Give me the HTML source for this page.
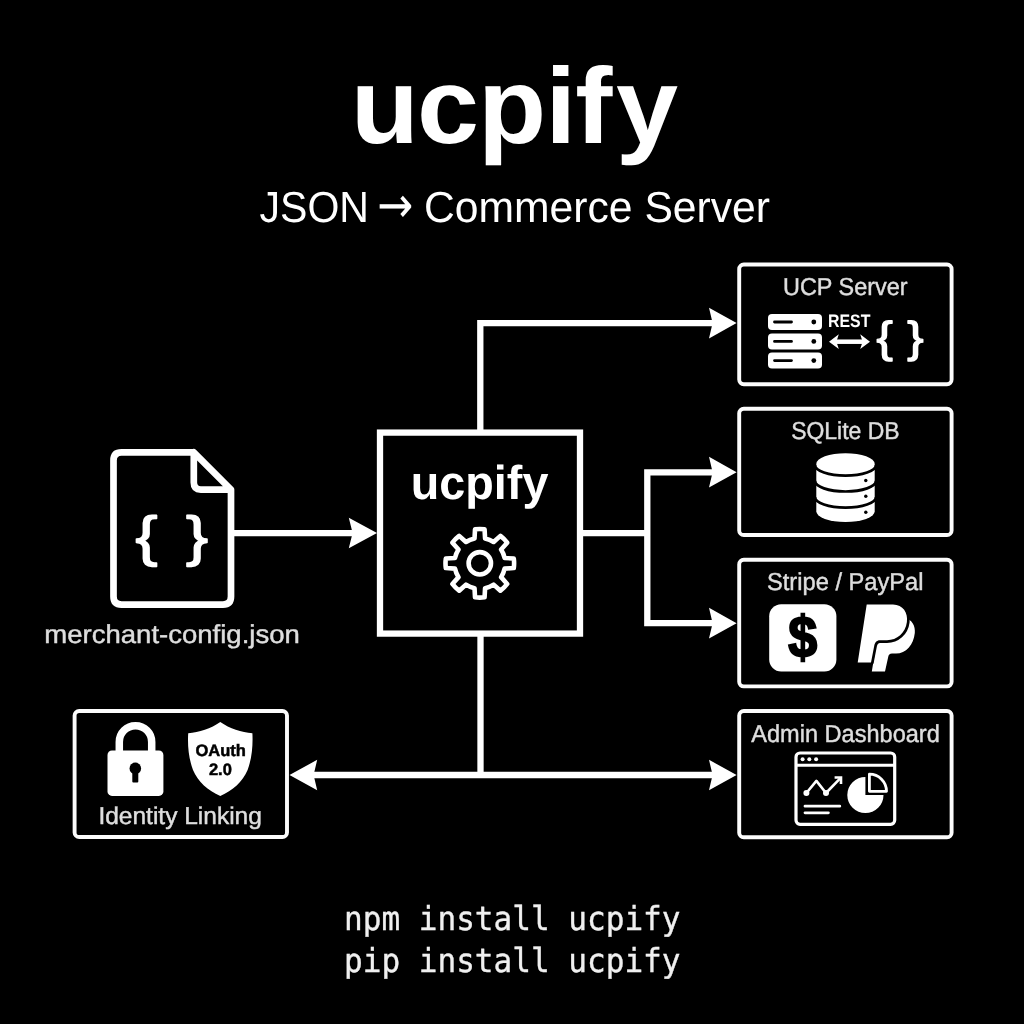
<!DOCTYPE html>
<html lang="en">
<head>
<meta charset="utf-8">
<title>ucpify — JSON → Commerce Server</title>
<style>
html,body{margin:0;padding:0;background:#000;}
body{width:1024px;height:1024px;overflow:hidden;position:relative;font-family:"Liberation Sans",sans-serif;}
svg{position:absolute;left:0;top:0;display:block;will-change:transform;}
text{font-family:"Liberation Sans",sans-serif;fill:#fff;text-rendering:geometricPrecision;}
.b{font-weight:700;}
.lbl{fill:#dedede;stroke:#dedede;stroke-width:0.45;}
.br{stroke:#fff;stroke-linejoin:round;}
.mono{font-family:"DejaVu Sans Mono","Liberation Mono",monospace;fill:#f0f0f0;stroke:#f0f0f0;stroke-width:0.35;}
.ln{fill:none;stroke:#fff;stroke-width:6.3;stroke-linejoin:miter;stroke-linecap:butt;}
.bx{fill:none;stroke:#fcfcfc;stroke-width:3.9;}
.w{fill:#fff;}
.k{fill:#000;}
</style>
</head>
<body>
<svg width="1024" height="1024" viewBox="0 0 1024 1024">
<rect width="1024" height="1024" fill="#000"/>

<!-- ===== headings ===== -->
<g id="headings">
<text id="t-title" class="b" transform="scale(1.0378 1)" x="338.1 401.8 460.6 525.5 554.4 593.6" y="143.3" font-size="107.5">ucpify</text>
<text id="t-sub" y="221.8" font-size="43.5" fill="#f4f4f4" xml:space="preserve"><tspan x="259.5" textLength="109.5" lengthAdjust="spacingAndGlyphs">JSON</tspan><tspan> </tspan><tspan x="377.3" y="222.4" font-family="DejaVu Sans, sans-serif" font-size="50" textLength="36" lengthAdjust="spacingAndGlyphs">→</tspan><tspan> </tspan><tspan x="424" y="221.8" textLength="346" lengthAdjust="spacingAndGlyphs">Commerce Server</tspan></text>
</g>

<!-- ===== connectors ===== -->
<g id="connectors">
<path class="ln" d="M234 533.1H353"/>
<path class="ln" d="M480.3 432V323.1H713"/>
<path class="ln" d="M582 533.1H647.3M713 472.3H647.3V623.1H713"/>
<path class="ln" d="M480.5 635V775"/>
<path class="ln" d="M313 775H713"/>
<g class="w" id="arrows">
<path d="M377 533L348.8 517.8L352.6 533L348.8 548.2Z"/>
<path d="M736.6 323.1L709 307.8L712.6 323.1L709 338.4Z"/>
<path d="M736.6 472.2L709 456.8L712.6 472.2L709 487.6Z"/>
<path d="M736.6 623.2L709 607.8L712.6 623.2L709 638.6Z"/>
<path d="M736.6 775L709 759.8L712.6 775L709 790.2Z"/>
<path d="M289.5 775L317.2 759.8L313.6 775L317.2 790.2Z"/>
</g>
</g>

<!-- ===== boxes ===== -->
<g id="boxes">
<rect class="ln" x="380" y="432.6" width="200" height="201"/>
<rect class="bx" x="739.2" y="264.5" width="212.4" height="119.7" rx="4.6" ry="4.6"/>
<rect class="bx" x="739.2" y="408.7" width="212.4" height="126.3" rx="4.6" ry="4.6"/>
<rect class="bx" x="739.2" y="559.8" width="212.4" height="126.6" rx="4.6" ry="4.6"/>
<rect class="bx" x="739.2" y="711" width="212.4" height="126.3" rx="4.6" ry="4.6"/>
<rect class="bx" x="74.6" y="711" width="212.4" height="126" rx="4.6" ry="4.6"/>
</g>

<!-- ===== file icon ===== -->
<g id="file">
<path d="M193.8 452.3H121.5Q113.5 452.3 113.5 460.3V596.6Q113.5 604.6 121.5 604.6H223Q231 604.6 231 596.6V489.6L193.8 452.3V482.6Q193.8 489.6 200.8 489.6H231" fill="none" stroke="#fff" stroke-width="6.7" stroke-linejoin="round"/>
<text id="t-fb" class="br" transform="scale(1.2 1)" x="112.9 135 155" y="555.3" font-size="55" xml:space="preserve" style="stroke-width:1.5">{ }</text>
<text id="t-file" class="lbl" x="44.3" y="642.7" font-size="25.8" textLength="255.5" lengthAdjust="spacingAndGlyphs">merchant-config.json</text>
</g>

<!-- ===== central ===== -->
<g id="central">
<text id="t-core" class="b" x="410.8" y="498.7" font-size="47.5" textLength="137.6" lengthAdjust="spacingAndGlyphs">ucpify</text>
<g id="gear" transform="translate(479.8 563.3)" fill="none" stroke="#fff" stroke-width="4.6" stroke-linejoin="round">
<path d="M-5.28 -24.84L-4.77 -33.97A34.30 34.30 0 0 1 4.77 -33.97L5.28 -24.84A25.40 25.40 0 0 1 13.83 -21.30L20.64 -27.39A34.30 34.30 0 0 1 27.39 -20.64L21.30 -13.83A25.40 25.40 0 0 1 24.84 -5.28L33.97 -4.77A34.30 34.30 0 0 1 33.97 4.77L24.84 5.28A25.40 25.40 0 0 1 21.30 13.83L27.39 20.64A34.30 34.30 0 0 1 20.64 27.39L13.83 21.30A25.40 25.40 0 0 1 5.28 24.84L4.77 33.97A34.30 34.30 0 0 1 -4.77 33.97L-5.28 24.84A25.40 25.40 0 0 1 -13.83 21.30L-20.64 27.39A34.30 34.30 0 0 1 -27.39 20.64L-21.30 13.83A25.40 25.40 0 0 1 -24.84 5.28L-33.97 4.77A34.30 34.30 0 0 1 -33.97 -4.77L-24.84 -5.28A25.40 25.40 0 0 1 -21.30 -13.83L-27.39 -20.64A34.30 34.30 0 0 1 -20.64 -27.39L-13.83 -21.30A25.40 25.40 0 0 1 -5.28 -24.84Z"/>
<circle r="11.2"/>
</g>
</g>

<!-- ===== UCP server ===== -->
<g id="ucp">
<text id="t-ucp" class="lbl" x="783" y="295.3" font-size="24.5" textLength="124.5" lengthAdjust="spacingAndGlyphs">UCP Server</text>
<g id="srv">
<rect class="w" x="768" y="314" width="54" height="16" rx="4"/>
<rect class="w" x="768" y="333.4" width="54" height="16" rx="4"/>
<rect class="w" x="768" y="352.6" width="54" height="16" rx="4"/>
<g fill="none" stroke="#000" stroke-width="2.8" stroke-linecap="round">
<path d="M774.5 322H791.5M774.5 341.4H791.5M774.5 360.6H791.5"/>
</g>
<circle class="k" cx="813.8" cy="322" r="2.4"/><circle class="k" cx="813.8" cy="341.4" r="2.4"/><circle class="k" cx="813.8" cy="360.6" r="2.4"/>
</g>
<text id="t-rest" class="b" x="828" y="327" font-size="18" textLength="42.4" lengthAdjust="spacingAndGlyphs">REST</text>
<path d="M834 341.7H865" fill="none" stroke="#fff" stroke-width="4.5"/>
<path class="w" d="M829 341.7L838.8 334.3L836.4 341.7L838.8 349.1ZM870 341.7L860.2 334.3L862.6 341.7L860.2 349.1Z"/>
<text id="t-ub" class="br" transform="scale(1.13 1)" x="775.6 790 802.9" y="352.3" font-size="43.3" xml:space="preserve" style="stroke-width:1.3">{ }</text>
</g>

<!-- ===== SQLite ===== -->
<g id="sqlite">
<text id="t-sql" class="lbl" x="791.2" y="439.3" font-size="24.5" textLength="108.4" lengthAdjust="spacingAndGlyphs">SQLite DB</text>
<g id="db">
<path class="w" d="M816.3 464A29.2 10.8 0 0 1 874.7 464V511.3A29.2 10.8 0 0 1 816.3 511.3Z"/>
<g fill="none" stroke="#000" stroke-width="2.7">
<path d="M815 465A30.5 10.7 0 0 0 876 465"/>
<path d="M815 480.8A30.5 10.7 0 0 0 876 480.8"/>
<path d="M815 497A30.5 10.7 0 0 0 876 497"/>
</g>
<circle class="k" cx="865.8" cy="480.5" r="1.7"/><circle class="k" cx="865.8" cy="496.3" r="1.7"/><circle class="k" cx="865.8" cy="512.3" r="1.7"/>
</g>
</g>

<!-- ===== Stripe / PayPal ===== -->
<g id="pay">
<text id="t-pay" class="lbl" x="767" y="590.3" font-size="24.5" textLength="156.5" lengthAdjust="spacingAndGlyphs">Stripe / PayPal</text>
<rect class="w" x="769.2" y="604.2" width="67.2" height="67.4" rx="12" ry="12"/>
<text id="t-dollar" class="b" transform="translate(802.75 637.75) scale(0.93 1.04)" x="0" y="18.6" font-size="56" text-anchor="middle" style="fill:#000;stroke:#000;stroke-width:2">$</text>
<g id="pp">
<path class="w" d="M880 618H905C912 619.5 915.6 626 914.8 633C913.6 645 906 653.6 896 653.6H892C889.6 653.6 888.6 655 888.2 657L885 671.4H871.8L877 640Z"/>
<path d="M866.7 604.6H893C903 604.6 908.2 613 906.9 622C905.5 633 897 640.2 887 640.2H880C876.5 640.2 874.8 642.5 874.2 646L871 662.4H857.7Z" fill="#fff" stroke="#000" stroke-width="5.4" stroke-linejoin="round" paint-order="stroke"/>
</g>
</g>

<!-- ===== Admin ===== -->
<g id="admin">
<text id="t-adm" class="lbl" x="751.3" y="741.5" font-size="24.5" textLength="188.5" lengthAdjust="spacingAndGlyphs">Admin Dashboard</text>
<g id="dash" fill="none" stroke="#fff">
<rect x="796" y="753" width="98.7" height="71.3" rx="4" stroke-width="3.2"/>
<path d="M796 765.2H894.7" stroke-width="3"/>
<path d="M806.4 793L816.4 780.9L826 793L840.2 778.4" stroke-width="2.6" stroke-linejoin="round"/>
<path d="M834.6 777.5H841V784" stroke-width="2.6"/>
<path d="M805 806.2H839.8M805 812.8H828.4" stroke-width="2.8" stroke-linecap="round"/>
<path d="M869.4 774.2V791.3H886.5A17.1 17.1 0 0 0 869.4 774.2Z" stroke-width="2.8" stroke-linejoin="round"/>
</g>
<g class="w">
<circle cx="802.6" cy="759.3" r="2"/><circle cx="809.3" cy="759.3" r="2"/><circle cx="816.1" cy="759.3" r="2"/>
<circle cx="806.4" cy="793" r="3"/><circle cx="826" cy="793" r="3"/>
<path d="M865.4 776.9A18.1 18.1 0 1 0 883.5 795H865.4Z"/>
</g>
</g>

<!-- ===== Identity ===== -->
<g id="identity">
<g id="lock">
<path d="M119.3 752V741.9A16.2 16.2 0 0 1 151.7 741.9V752" fill="none" stroke="#fff" stroke-width="7.5"/>
<rect class="w" x="107.5" y="750.5" width="55.9" height="45.4" rx="4.5"/>
<circle class="k" cx="135.3" cy="768.4" r="5.8"/>
<rect class="k" x="132.3" y="768.4" width="6" height="14.2" rx="1"/>
</g>
<g id="shield">
<path class="w" d="M220.3 722C211 728.5 199 732.5 188.2 733.3C187.5 745 188.5 758 193 770C198 782 208 790.5 220.3 796C232.6 790.5 242.6 782 247.6 770C252 758 253 745 252.4 733.3C241.6 732.5 229.6 728.5 220.3 722Z"/>
<text id="t-oauth" class="b" x="220.7" y="755.5" font-size="16.5" text-anchor="middle" style="fill:#000;stroke:#000;stroke-width:0.5">OAuth</text>
<text id="t-20" class="b" x="220.4" y="775.1" font-size="16.5" text-anchor="middle" style="fill:#000;stroke:#000;stroke-width:0.5">2.0</text>
</g>
<text id="t-id" class="lbl" x="98.4" y="824.2" font-size="24.3" textLength="163.5" lengthAdjust="spacingAndGlyphs">Identity Linking</text>
</g>

<!-- ===== install ===== -->
<g id="install">
<text id="t-npm" class="mono" x="344" y="929.8" font-size="33" textLength="336.5" lengthAdjust="spacingAndGlyphs" xml:space="preserve">npm install ucpify</text>
<text id="t-pip" class="mono" x="344" y="971.9" font-size="33" textLength="336.5" lengthAdjust="spacingAndGlyphs" xml:space="preserve">pip install ucpify</text>
</g>
</svg>
</body>
</html>
